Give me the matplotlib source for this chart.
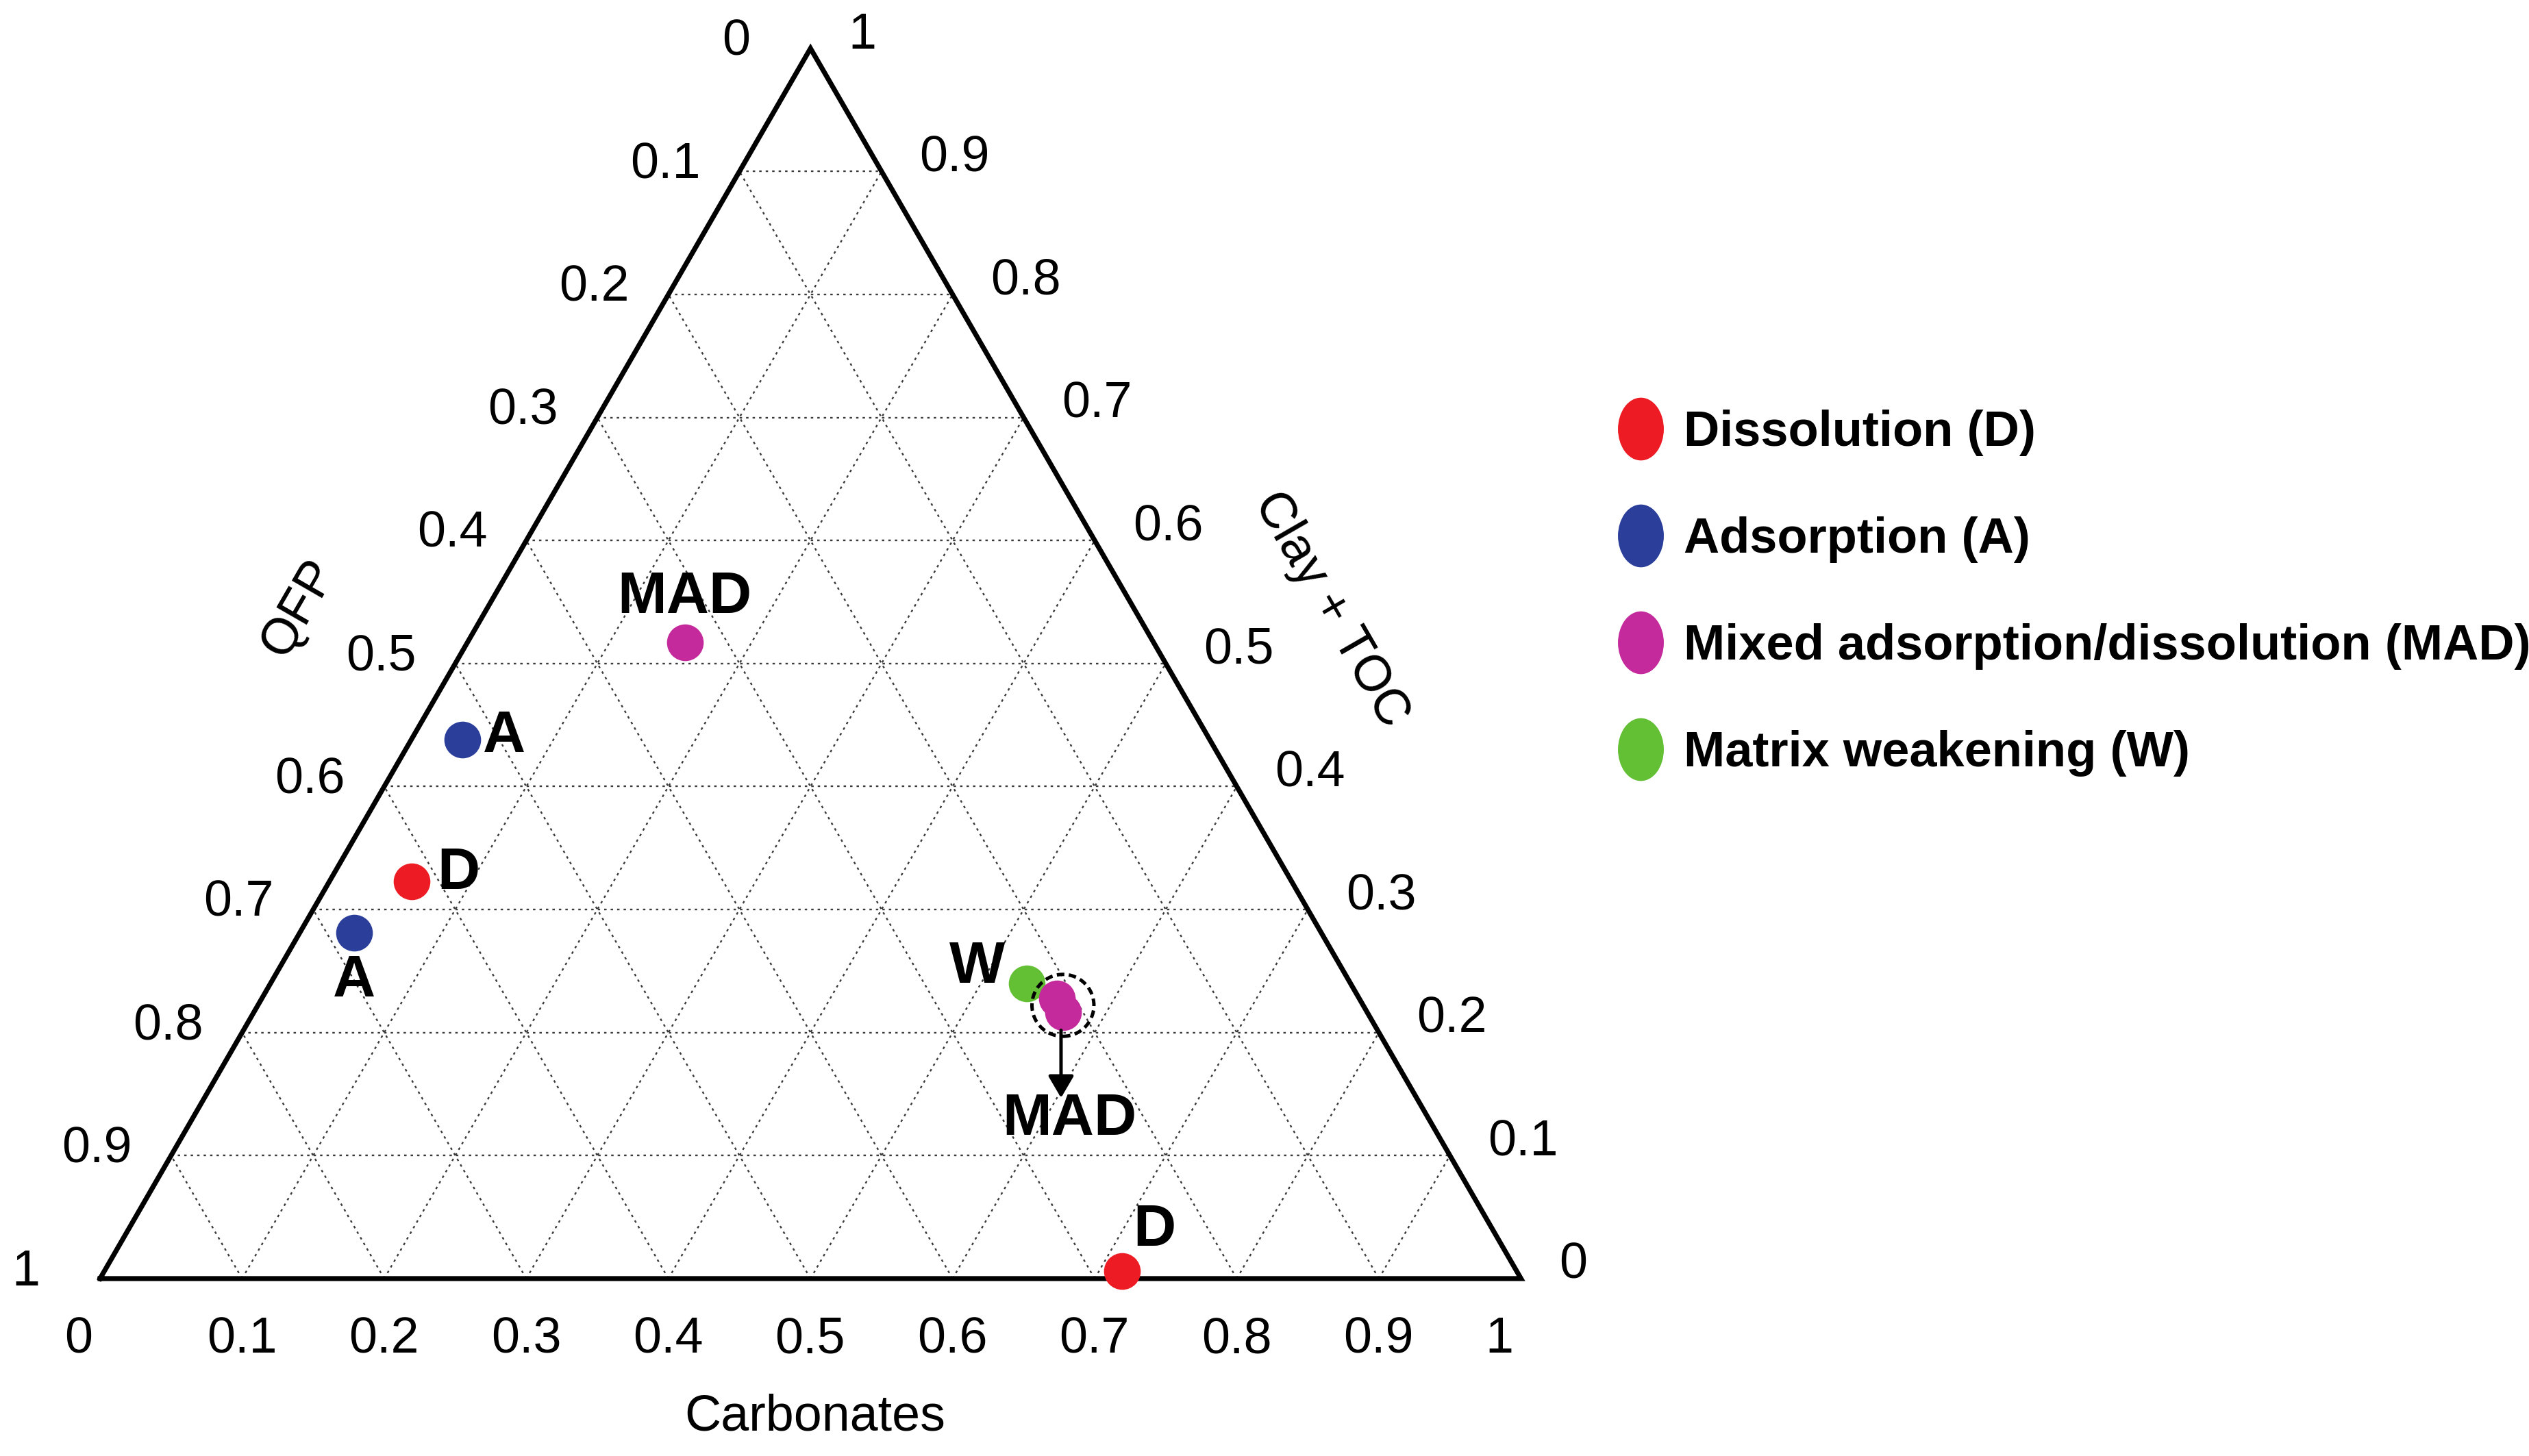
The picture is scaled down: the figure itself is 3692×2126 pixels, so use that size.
"""Ternary plot: QFP / Carbonates / Clay + TOC with deformation mechanism classes."""

import numpy as np
import matplotlib
matplotlib.use("Agg")
import matplotlib.pyplot as plt
import matplotlib.transforms as mtransforms
from matplotlib import font_manager
from matplotlib.lines import Line2D
from matplotlib.patches import Circle
from matplotlib.path import Path

# --- data (fractions: carbonates, clay + TOC, QFP) ---
dis_carb = [0.058, 0.716]
dis_clay = [0.323, 0.006]
dis_qfp = [0.619, 0.278]

ads_carb = [0.036, 0.0385]
ads_clay = [0.438, 0.281]
ads_qfp = [0.526, 0.6805]

mad_carb = [0.153, 0.5598, 0.5694]
mad_clay = [0.517, 0.2277, 0.2165]
mad_qfp = [0.330, 0.2125, 0.2141]

wk_carb = [0.532]
wk_clay = [0.240]
wk_qfp = [0.228]

ticks = [0.0, 0.1, 0.2, 0.3, 0.4, 0.5, 0.6, 0.7, 0.8, 0.9, 1.0]
tick_labels = ["0", "0.1", "0.2", "0.3", "0.4", "0.5", "0.6", "0.7", "0.8", "0.9", "1"]

legend_names = ["Dissolution (D)", "Adsorption (A)",
                "Mixed adsorption/dissolution (MAD)", "Matrix weakening (W)"]
RED, BLUE, MAG, GREEN = "#ED1C24", "#2B3F9A", "#C42A9B", "#63BF33"

H = np.sqrt(3) / 2
names = {f.name for f in font_manager.fontManager.ttflist}
NARROW = "Liberation Sans Narrow" if "Liberation Sans Narrow" in names else "Liberation Sans"
LEG_FS = 30.6 if NARROW == "Liberation Sans Narrow" else 26
plt.rcParams["font.family"] = ["Liberation Sans", "DejaVu Sans"]


def tern(c, k):
    c = np.asarray(c, float); k = np.asarray(k, float)
    return c + k / 2, k * H


fig = plt.figure(figsize=(18.46, 10.63), dpi=200)
ax = fig.add_axes([0, 0, 1, 1])
ax.set_xlim(-0.0704, -0.0704 + 1.7798)
ax.set_ylim(-0.1249, -0.1249 + 1.0250)
ax.axis("off")

# grid
gk = dict(color="#3a3a3a", lw=0.85, dashes=(1.5, 2.5), zorder=1)
for v in ticks[1:-1]:
    x, y = tern([v, v], [0, 1 - v]); ax.plot(x, y, **gk)           # const carbonates
    x, y = tern([0, 1 - v], [v, v]); ax.plot(x, y, **gk)           # const clay
    x, y = tern([1 - v, 0], [0, 1 - v]); ax.plot(x, y, **gk)       # const qfp

# frame
x, y = tern([0, 1, 0, 0], [0, 0, 1, 0])
ax.plot(x, y, color="black", lw=2.6, solid_joinstyle="miter", zorder=3)

# tick labels
for v, lab in zip(ticks, tick_labels):
    ax.annotate(lab, tern(v, 0), xytext=(-18.6, -32), textcoords="offset points",
                ha="left", va="center", fontsize=26.5)
    ax.annotate(lab, tern(0, 1 - v), xytext=(-39, 3.5), textcoords="offset points",
                ha="center", va="center", fontsize=26.5)
    ax.annotate(lab, tern(1 - v, v), xytext=(20, 7), textcoords="offset points",
                ha="left", va="center", fontsize=26.5)

ax.text(0.503, -0.0976, "Carbonates", ha="center", va="center", fontsize=26.5)
ax.text(0.140, 0.472, "QFP", ha="center", va="center", fontsize=26.5, rotation=60)
ax.text(0.866, 0.471, "Clay + TOC", ha="center", va="center", fontsize=26.5, rotation=-60)

# points
mk = dict(ls="none", marker="o", ms=19.3, mew=0, zorder=5)
ax.plot(*tern(dis_carb, dis_clay), color=RED, **mk)
ax.plot(*tern(ads_carb, ads_clay), color=BLUE, **mk)
ax.plot(*tern(wk_carb, wk_clay), color=GREEN, **mk)
ax.plot(*tern(mad_carb, mad_clay), color=MAG, **mk)

# dashed circle around the MAD cluster + arrow down to its label
cx, cy = tern(np.mean(mad_carb[1:]), np.mean(mad_clay[1:]))
ax.add_patch(Circle((cx + 0.002, cy), 0.0218, fill=False, ec="black", lw=1.8,
                    ls=(0, (2.2, 1.3)), zorder=6))
p = tuple(float(t) for t in tern(mad_carb[2], mad_clay[2]))
off0 = mtransforms.offset_copy(ax.transData, fig=fig, x=-1, y=-9.5, units="points")
off1 = mtransforms.offset_copy(ax.transData, fig=fig, x=-1, y=-45, units="points")
ax.annotate("", xy=p, xycoords=off1, xytext=p, textcoords=off0, zorder=6,
            arrowprops=dict(arrowstyle="-|>,head_length=0.65,head_width=0.38",
                            mutation_scale=15, color="black", lw=1.8,
                            shrinkA=0, shrinkB=0))

# point labels
lk = dict(fontsize=31, fontweight="bold", ha="center", va="center", zorder=7,
          textcoords="offset points")
ax.annotate("MAD", tern(mad_carb[0], mad_clay[0]), xytext=(0, 23.5), **lk)
ax.annotate("A", tern(ads_carb[0], ads_clay[0]), xytext=(22, 1.5), **lk)
ax.annotate("D", tern(dis_carb[0], dis_clay[0]), xytext=(24.4, 4), **lk)
ax.annotate("A", tern(ads_carb[1], ads_clay[1]), xytext=(0, -25.5), **lk)
ax.annotate("W", tern(wk_carb[0], wk_clay[0]), xytext=(-26, 8.4), **lk)
ax.annotate("MAD", tern(mad_carb[2], mad_clay[2]), xytext=(3.4, -56.5), **lk)
ax.annotate("D", tern(dis_carb[1], dis_clay[1]), xytext=(17.4, 21.3), **lk)

# legend
circ = Path.unit_circle()
ell = Path(circ.vertices * np.array([0.73, 1.0]), circ.codes)
handles = [Line2D([], [], ls="none", marker=ell, ms=33, mew=0, color=c)
           for c in (RED, BLUE, MAG, GREEN)]
ax.legend(handles, legend_names, loc="upper left", bbox_to_anchor=(1005 / 1568, 1 - 254 / 903),
          bbox_transform=fig.transFigure, frameon=False, borderpad=0, borderaxespad=0,
          handlelength=0.79, handletextpad=0.48, labelspacing=1.22,
          prop=dict(family=NARROW, weight="bold", size=LEG_FS))

fig.savefig("out.png", dpi=200)
